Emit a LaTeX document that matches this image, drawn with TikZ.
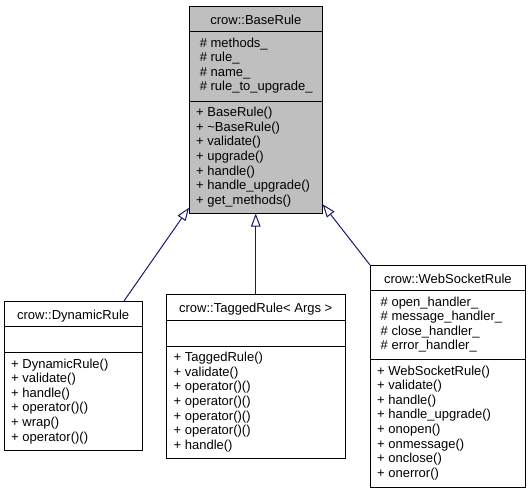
\documentclass[tikz,border=0pt]{standalone}
\usepackage{fontspec}
\setmainfont{Liberation Sans}
\usetikzlibrary{arrows.meta}
\definecolor{edgeblue}{HTML}{191970}
\definecolor{basefill}{HTML}{BFBFBF}
\newcommand\umllines[4]{%
  \foreach \t [count=\i from 0] in {#4} {
    \node[txt] (#1-\i) at (#2, #3+\i*14.6) {\t};
  }%
}
\begin{document}
\begin{tikzpicture}[x=1pt,y=-1pt,
  classbox/.style={draw=black, line width=0.8pt, fill=white, rectangle, inner sep=0pt, outer sep=0pt, anchor=north west},
  txt/.style={font=\fontsize{13}{14}\selectfont, inner sep=0pt, anchor=base west},
  ttl/.style={font=\fontsize{13}{14}\selectfont, inner sep=0pt, anchor=base},
  sepline/.style={draw=black, line width=0.8pt},
  inh/.style={draw=edgeblue, line width=1pt, -{Triangle[open, length=13pt, width=9.5pt]}}]

\useasboundingbox (0,0) rectangle (528,493);

% ---- crow::BaseRule
\node[classbox, fill=basefill, minimum width=133.7pt, minimum height=207.5pt] (base) at (189,6) {};
\draw[sepline] (189,31.5) -- (322.7,31.5);
\draw[sepline] (189,101) -- (322.7,101);
\node[ttl] (base-t) at (255.85,24) {crow::BaseRule};
\umllines{base-a}{199.6}{47}{\#~methods\_, \#~rule\_, \#~name\_, \#~rule\_to\_upgrade\_}
\umllines{base-m}{196}{116.7}{+ BaseRule(), + \textasciitilde BaseRule(), + validate(), + upgrade(), + handle(), + handle\_upgrade(), + get\_methods()}

% ---- crow::DynamicRule
\node[classbox, minimum width=138.3pt, minimum height=149.7pt] (dyn) at (4,301) {};
\draw[sepline] (4,326.5) -- (142.3,326.5);
\draw[sepline] (4,352.5) -- (142.3,352.5);
\node[ttl] (dyn-t) at (73.15,319) {crow::DynamicRule};
\umllines{dyn-m}{11}{368}{+ DynamicRule(), + validate(), + handle(), + operator()(), + wrap(), + operator()()}

% ---- crow::TaggedRule< Args >
\node[classbox, minimum width=178.5pt, minimum height=164.8pt] (tag) at (166.5,294) {};
\draw[sepline] (166.5,320) -- (345,320);
\draw[sepline] (166.5,346) -- (345,346);
\node[ttl] (tag-t) at (255.75,312) {crow::TaggedRule< Args >};
\umllines{tag-m}{173.5}{361.6}{+ TaggedRule(), + validate(), + operator()(), + operator()(), + operator()(), + operator()(), + handle()}

% ---- crow::WebSocketRule
\node[classbox, minimum width=155.7pt, minimum height=222pt] (ws) at (370,265) {};
\draw[sepline] (370,290.5) -- (525.7,290.5);
\draw[sepline] (370,359.5) -- (525.7,359.5);
\node[ttl] (ws-t) at (447.85,283) {crow::WebSocketRule};
\umllines{ws-a}{380.5}{306.1}{\#~open\_handler\_, \#~message\_handler\_, \#~close\_handler\_, \#~error\_handler\_}
\umllines{ws-m}{377}{375.1}{+ WebSocketRule(), + validate(), + handle(), + handle\_upgrade(), + onopen(), + onmessage(), + onclose(), + onerror()}

% ---- inheritance connectors
\draw[inh] ([xshift=120pt]dyn.north west) -- ([yshift=5.8pt]base.south west);
\draw[inh] (tag.north) -- (tag.north |- base.south);
\draw[inh] (ws.north west) -- ([yshift=9.2pt]base.south east);
\end{tikzpicture}
\end{document}
